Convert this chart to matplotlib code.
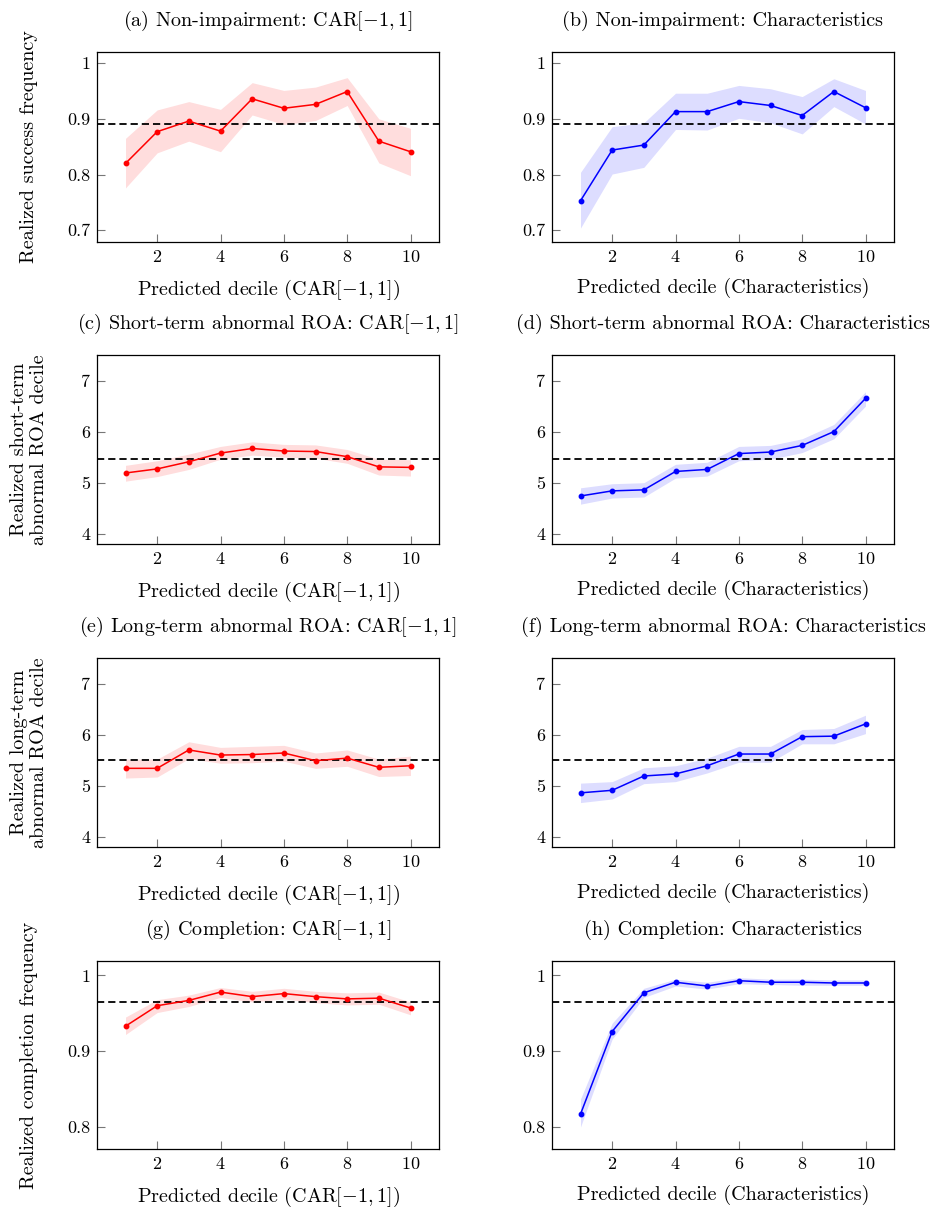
import matplotlib
matplotlib.use("Agg")
import matplotlib.pyplot as plt

plt.rcParams['font.family'] = 'serif'
plt.rcParams['font.serif'] = ['cmr10', 'DejaVu Serif']
plt.rcParams['mathtext.fontset'] = 'cm'
plt.rcParams['axes.formatter.use_mathtext'] = True

deciles = [1, 2, 3, 4, 5, 6, 7, 8, 9, 10]

# (a) non-impairment, CAR[-1,1]
a_mean = [0.820, 0.877, 0.896, 0.878, 0.936, 0.919, 0.926, 0.949, 0.860, 0.841]
a_low = [0.776, 0.839, 0.860, 0.841, 0.907, 0.890, 0.897, 0.924, 0.821, 0.798]
a_high = [0.865, 0.916, 0.931, 0.917, 0.965, 0.951, 0.957, 0.974, 0.900, 0.883]
a_ref = 0.890

# (b) non-impairment, characteristics
b_mean = [0.753, 0.844, 0.853, 0.913, 0.913, 0.931, 0.924, 0.906, 0.949, 0.920]
b_low = [0.704, 0.801, 0.813, 0.881, 0.880, 0.901, 0.893, 0.873, 0.922, 0.891]
b_high = [0.804, 0.886, 0.893, 0.946, 0.946, 0.960, 0.954, 0.940, 0.972, 0.951]
b_ref = 0.890

# (c) short-term abnormal ROA, CAR[-1,1]
c_mean = [5.19, 5.27, 5.41, 5.58, 5.67, 5.62, 5.61, 5.51, 5.31, 5.30]
c_low = [5.03, 5.12, 5.26, 5.46, 5.54, 5.50, 5.48, 5.38, 5.15, 5.13]
c_high = [5.34, 5.43, 5.56, 5.71, 5.80, 5.75, 5.74, 5.65, 5.46, 5.45]
c_ref = 5.46

# (d) short-term abnormal ROA, characteristics
d_mean = [4.74, 4.84, 4.86, 5.22, 5.26, 5.57, 5.60, 5.73, 6.00, 6.65]
d_low = [4.58, 4.70, 4.72, 5.09, 5.13, 5.43, 5.46, 5.59, 5.86, 6.50]
d_high = [4.90, 4.98, 5.00, 5.36, 5.40, 5.71, 5.73, 5.86, 6.14, 6.78]
d_ref = 5.46

# (e) long-term abnormal ROA, CAR[-1,1]
e_mean = [5.34, 5.34, 5.70, 5.60, 5.61, 5.64, 5.49, 5.54, 5.36, 5.39]
e_low = [5.15, 5.17, 5.53, 5.44, 5.45, 5.48, 5.34, 5.38, 5.18, 5.20]
e_high = [5.52, 5.52, 5.86, 5.75, 5.77, 5.79, 5.64, 5.70, 5.52, 5.58]
e_ref = 5.50

# (f) long-term abnormal ROA, characteristics
f_mean = [4.86, 4.91, 5.19, 5.23, 5.39, 5.62, 5.62, 5.96, 5.97, 6.21]
f_low = [4.67, 4.74, 5.04, 5.08, 5.25, 5.46, 5.46, 5.82, 5.82, 6.02]
f_high = [5.05, 5.08, 5.35, 5.39, 5.54, 5.77, 5.77, 6.10, 6.12, 6.38]
f_ref = 5.50

# (g) completion, CAR[-1,1]
g_mean = [0.933, 0.960, 0.967, 0.978, 0.972, 0.976, 0.972, 0.969, 0.970, 0.957]
g_low = [0.922, 0.951, 0.959, 0.971, 0.965, 0.969, 0.964, 0.961, 0.962, 0.948]
g_high = [0.945, 0.968, 0.974, 0.984, 0.979, 0.983, 0.979, 0.977, 0.978, 0.965]
g_ref = 0.965

# (h) completion, characteristics
h_mean = [0.817, 0.926, 0.977, 0.991, 0.986, 0.993, 0.991, 0.991, 0.990, 0.990]
h_low = [0.800, 0.916, 0.971, 0.986, 0.982, 0.989, 0.988, 0.987, 0.987, 0.987]
h_high = [0.837, 0.937, 0.983, 0.995, 0.991, 0.997, 0.995, 0.995, 0.994, 0.994]
h_ref = 0.965

titles = [
    "(a) Non-impairment: CAR$[-1,1]$", "(b) Non-impairment: Characteristics",
    "(c) Short-term abnormal ROA: CAR$[-1,1]$", "(d) Short-term abnormal ROA: Characteristics",
    "(e) Long-term abnormal ROA: CAR$[-1,1]$", "(f) Long-term abnormal ROA: Characteristics",
    "(g) Completion: CAR$[-1,1]$", "(h) Completion: Characteristics",
]
xlabels = ["Predicted decile (CAR$[-1,1]$)", "Predicted decile (Characteristics)"]
ylabels = [
    "Realized success frequency",
    "Realized short-term\nabnormal ROA decile",
    "Realized long-term\nabnormal ROA decile",
    "Realized completion frequency",
]
xticks = [2, 4, 6, 8, 10]
yticks_freq = [0.7, 0.8, 0.9, 1.0]
yticks_freq_labels = ["0.7", "0.8", "0.9", "1"]
yticks_dec = [4, 5, 6, 7]
yticks_dec_labels = ["4", "5", "6", "7"]
yticks_comp = [0.8, 0.9, 1.0]
yticks_comp_labels = ["0.8", "0.9", "1"]

panels = [
    (a_mean, a_low, a_high, a_ref), (b_mean, b_low, b_high, b_ref),
    (c_mean, c_low, c_high, c_ref), (d_mean, d_low, d_high, d_ref),
    (e_mean, e_low, e_high, e_ref), (f_mean, f_low, f_high, f_ref),
    (g_mean, g_low, g_high, g_ref), (h_mean, h_low, h_high, h_ref),
]
row_ylim = [(0.679, 1.02), (3.8, 7.5), (3.8, 7.5), (0.771, 1.019)]
row_ticks = [(yticks_freq, yticks_freq_labels), (yticks_dec, yticks_dec_labels),
             (yticks_dec, yticks_dec_labels), (yticks_comp, yticks_comp_labels)]

fig = plt.figure(figsize=(9.3, 12.07), dpi=100)

col_left = [97 / 930, 552 / 930]
ax_w = 342 / 930
row_bottom = [1 - 242 / 1207, 1 - 544 / 1207, 1 - 847 / 1207, 1 - 1149 / 1207]
row_h = [190 / 1207, 189 / 1207, 189 / 1207, 188 / 1207]

for i, (mean, low, high, ref) in enumerate(panels):
    row, col = divmod(i, 2)
    ax = fig.add_axes([col_left[col], row_bottom[row], ax_w, row_h[row]])
    color = 'red' if col == 0 else 'blue'
    band = '#ffdddd' if col == 0 else '#ddddff'
    ax.fill_between(deciles, low, high, color=band, linewidth=0, zorder=1)
    ax.plot(deciles, mean, color=color, lw=1.1, marker='o', ms=3.2, zorder=3)
    ax.axhline(ref, color='black', lw=1.3, dashes=(4, 2.2), zorder=2)

    ax.set_xlim(0.1, 10.9)
    ax.set_ylim(*row_ylim[row])
    ax.set_xticks(xticks)
    ax.set_yticks(row_ticks[row][0])
    ax.set_yticklabels(row_ticks[row][1])
    ax.tick_params(direction='in', length=6, width=0.8, color='#777777',
                   labelsize=13, pad=5, top=False, right=False)
    for sp in ax.spines.values():
        sp.set_linewidth(0.9)

    ax.set_title(titles[i], fontsize=14.5, pad=19)
    ax.set_xlabel(xlabels[col], fontsize=14.5, labelpad=9)
    if col == 0:
        ax.set_ylabel(ylabels[row], fontsize=14.5, linespacing=1.15,
                      va='center')
        ax.yaxis.set_label_coords(-0.2, 0.5)

fig.savefig("out.png", dpi=100)
